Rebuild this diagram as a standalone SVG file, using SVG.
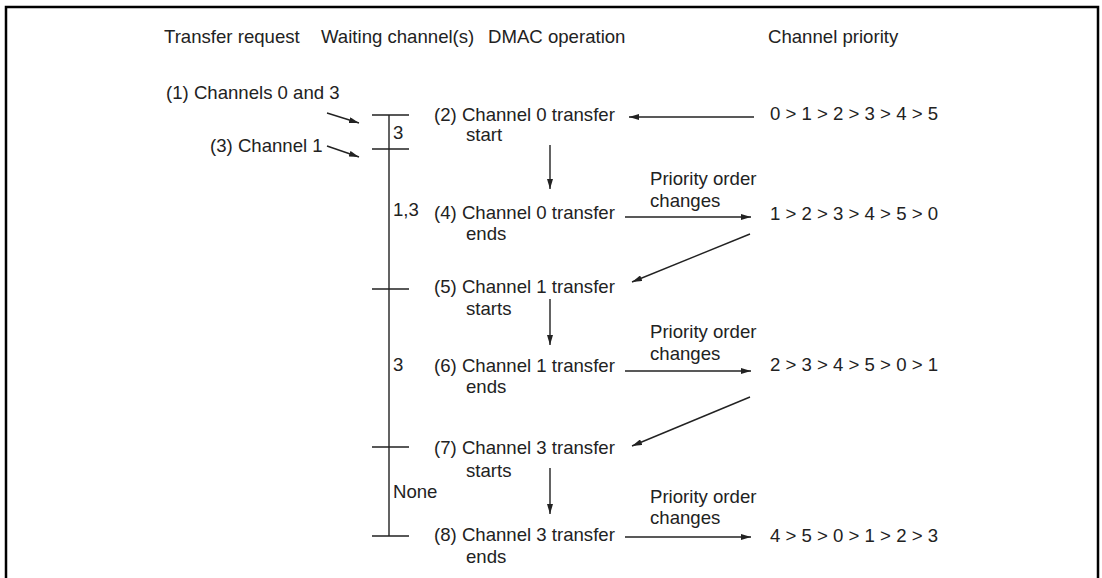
<svg xmlns="http://www.w3.org/2000/svg" width="1102" height="578" viewBox="0 0 1102 578">
<defs>
<style>
text{font-family:"Liberation Sans",Arial,sans-serif;font-size:18.6px;fill:#222}
.ln{stroke:#222;stroke-width:1.4;fill:none}
.ar{stroke:#222;stroke-width:1.4;fill:none;marker-end:url(#ah)}
</style>
<marker id="ah" viewBox="0 0 10 6" refX="10" refY="3" markerWidth="10" markerHeight="6" markerUnits="userSpaceOnUse" orient="auto">
<path d="M0,0 L10,3 L0,6 Z" fill="#222"/>
</marker>
</defs>
<rect width="1102" height="578" fill="#fff"/>
<path d="M6,580 V7 H1098 V580" fill="none" stroke="#000" stroke-width="2.5"/>
<g id="headers">
<text x="164" y="43">Transfer request</text>
<text x="321" y="43">Waiting channel(s)</text>
<text x="488" y="43">DMAC operation</text>
<text x="768" y="43">Channel priority</text>
</g>
<g id="requests">
<text x="166" y="99">(1) Channels 0 and 3</text>
<text x="210" y="152">(3) Channel 1</text>
</g>
<g id="waiting">
<path class="ln" d="M389,115 V536 M372,115 H409 M372,149 H409 M372,289 H409 M372,447 H409 M372,536 H409"/>
<text x="393" y="139">3</text>
<text x="393" y="216">1,3</text>
<text x="393" y="371">3</text>
<text x="393" y="498">None</text>
</g>
<g id="op2"><text x="434" y="121">(2) Channel 0 transfer</text><text x="466" y="141">start</text></g>
<g id="op4"><text x="434" y="219">(4) Channel 0 transfer</text><text x="466" y="240">ends</text></g>
<g id="op5"><text x="434" y="293">(5) Channel 1 transfer</text><text x="466" y="315">starts</text></g>
<g id="op6"><text x="434" y="372">(6) Channel 1 transfer</text><text x="466" y="393">ends</text></g>
<g id="op7"><text x="434" y="454">(7) Channel 3 transfer</text><text x="466" y="477">starts</text></g>
<g id="op8"><text x="434" y="541">(8) Channel 3 transfer</text><text x="466" y="563">ends</text></g>
<g id="prio0"><text x="770" y="120">0 &gt; 1 &gt; 2 &gt; 3 &gt; 4 &gt; 5</text></g>
<g id="prio1"><text x="770" y="220">1 &gt; 2 &gt; 3 &gt; 4 &gt; 5 &gt; 0</text></g>
<g id="prio2"><text x="770" y="371">2 &gt; 3 &gt; 4 &gt; 5 &gt; 0 &gt; 1</text></g>
<g id="prio3"><text x="770" y="542">4 &gt; 5 &gt; 0 &gt; 1 &gt; 2 &gt; 3</text></g>
<g id="connectors">
<path class="ar" d="M327,113 L359,123"/>
<path class="ar" d="M327,146 L359,157"/>
<path class="ar" d="M550,145 V189"/>
<path class="ar" d="M550,299 V345"/>
<path class="ar" d="M550,468 V514"/>
<path class="ar" d="M754,117 H629"/>
<path class="ar" d="M625,217 H751"/>
<path class="ar" d="M625,371 H751"/>
<path class="ar" d="M625,537 H751"/>
<path class="ar" d="M750,234 L632,282"/>
<path class="ar" d="M750,397 L632,446"/>
<text x="650" y="185">Priority order</text><text x="650" y="207">changes</text>
<text x="650" y="338">Priority order</text><text x="650" y="360">changes</text>
<text x="650" y="503">Priority order</text><text x="650" y="524">changes</text>
</g>
</svg>
